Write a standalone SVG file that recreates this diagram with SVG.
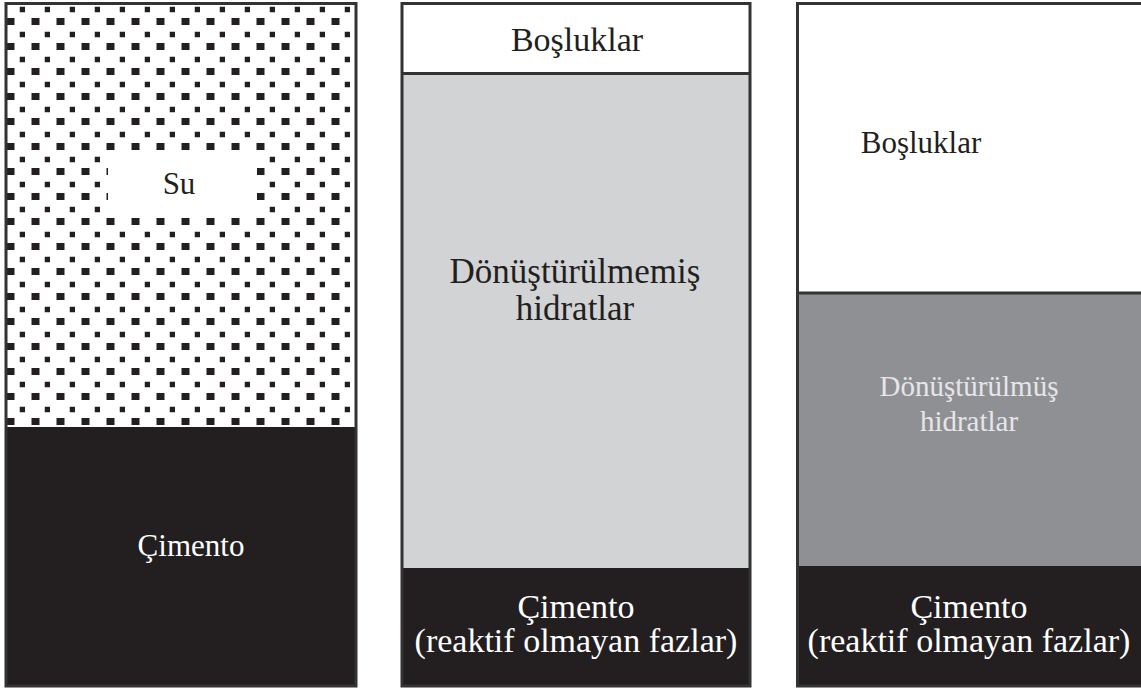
<svg xmlns="http://www.w3.org/2000/svg" width="1141" height="691" viewBox="0 0 1141 691">
<defs>
<pattern id="dots" x="0" y="0" width="25" height="25" patternUnits="userSpaceOnUse">
<rect x="6.5" y="18" width="8" height="8" fill="#231f20"/>
<rect x="19.75" y="6.75" width="5.5" height="5.5" fill="#231f20"/>
</pattern>
</defs>
<style>
text{font-family:'Liberation Serif','Times New Roman',serif;font-size:31px;text-anchor:middle}
.w{fill:#ffffff}
.k{fill:#231f20}
.lt{fill:#e6e6e8}
.big{font-size:35px}
.mid{font-size:34px}
.frame{fill:none;stroke:#333;stroke-width:3}
.div{stroke:#333;stroke-width:3}
</style>
<rect width="1141" height="691" fill="#ffffff"/>
<g id="col1">
<rect x="6" y="3.5" width="350" height="424" fill="#ffffff"/>
<rect x="6" y="3.5" width="350" height="424" fill="url(#dots)"/>
<rect x="108" y="153" width="149" height="64" fill="#ffffff"/>
<rect x="6" y="427" width="350" height="259" fill="#231f20"/>
<rect class="frame" x="6" y="3.5" width="350" height="682.5"/>
<text class="k" x="179" y="194">Su</text>
<text class="w" x="191" y="556">Çimento</text>
</g>
<g id="col2">
<rect x="402" y="3.5" width="348" height="70" fill="#ffffff"/>
<rect x="402" y="73.5" width="348" height="494.5" fill="#d1d3d4"/>
<rect x="402" y="568" width="348" height="118" fill="#231f20"/>
<line class="div" x1="402" y1="73.5" x2="750" y2="73.5"/>
<rect class="frame" x="402" y="3.5" width="348" height="682.5"/>
<text class="k mid" x="577" y="51">Boşluklar</text>
<text class="k big" x="575" y="283">Dönüştürülmemiş</text>
<text class="k big" x="575" y="320">hidratlar</text>
<text class="w mid" x="576" y="618">Çimento</text>
<text class="w mid" x="576" y="652">(reaktif olmayan fazlar)</text>
</g>
<g id="col3">
<rect x="797.5" y="3.5" width="346" height="290" fill="#ffffff"/>
<rect x="797.5" y="293" width="346" height="273" fill="#8f9094"/>
<rect x="797.5" y="566" width="346" height="120" fill="#231f20"/>
<line class="div" x1="797.5" y1="293" x2="1143" y2="293"/>
<rect class="frame" x="797.5" y="3.5" width="346" height="682.5"/>
<text class="k" x="921" y="153">Boşluklar</text>
<text class="lt" x="969" y="396" style="font-size:29px">Dönüştürülmüş</text>
<text class="lt" x="969" y="431" style="font-size:29px">hidratlar</text>
<text class="w mid" x="969" y="618">Çimento</text>
<text class="w mid" x="969" y="652">(reaktif olmayan fazlar)</text>
</g>
<g id="connectors"></g>
</svg>
